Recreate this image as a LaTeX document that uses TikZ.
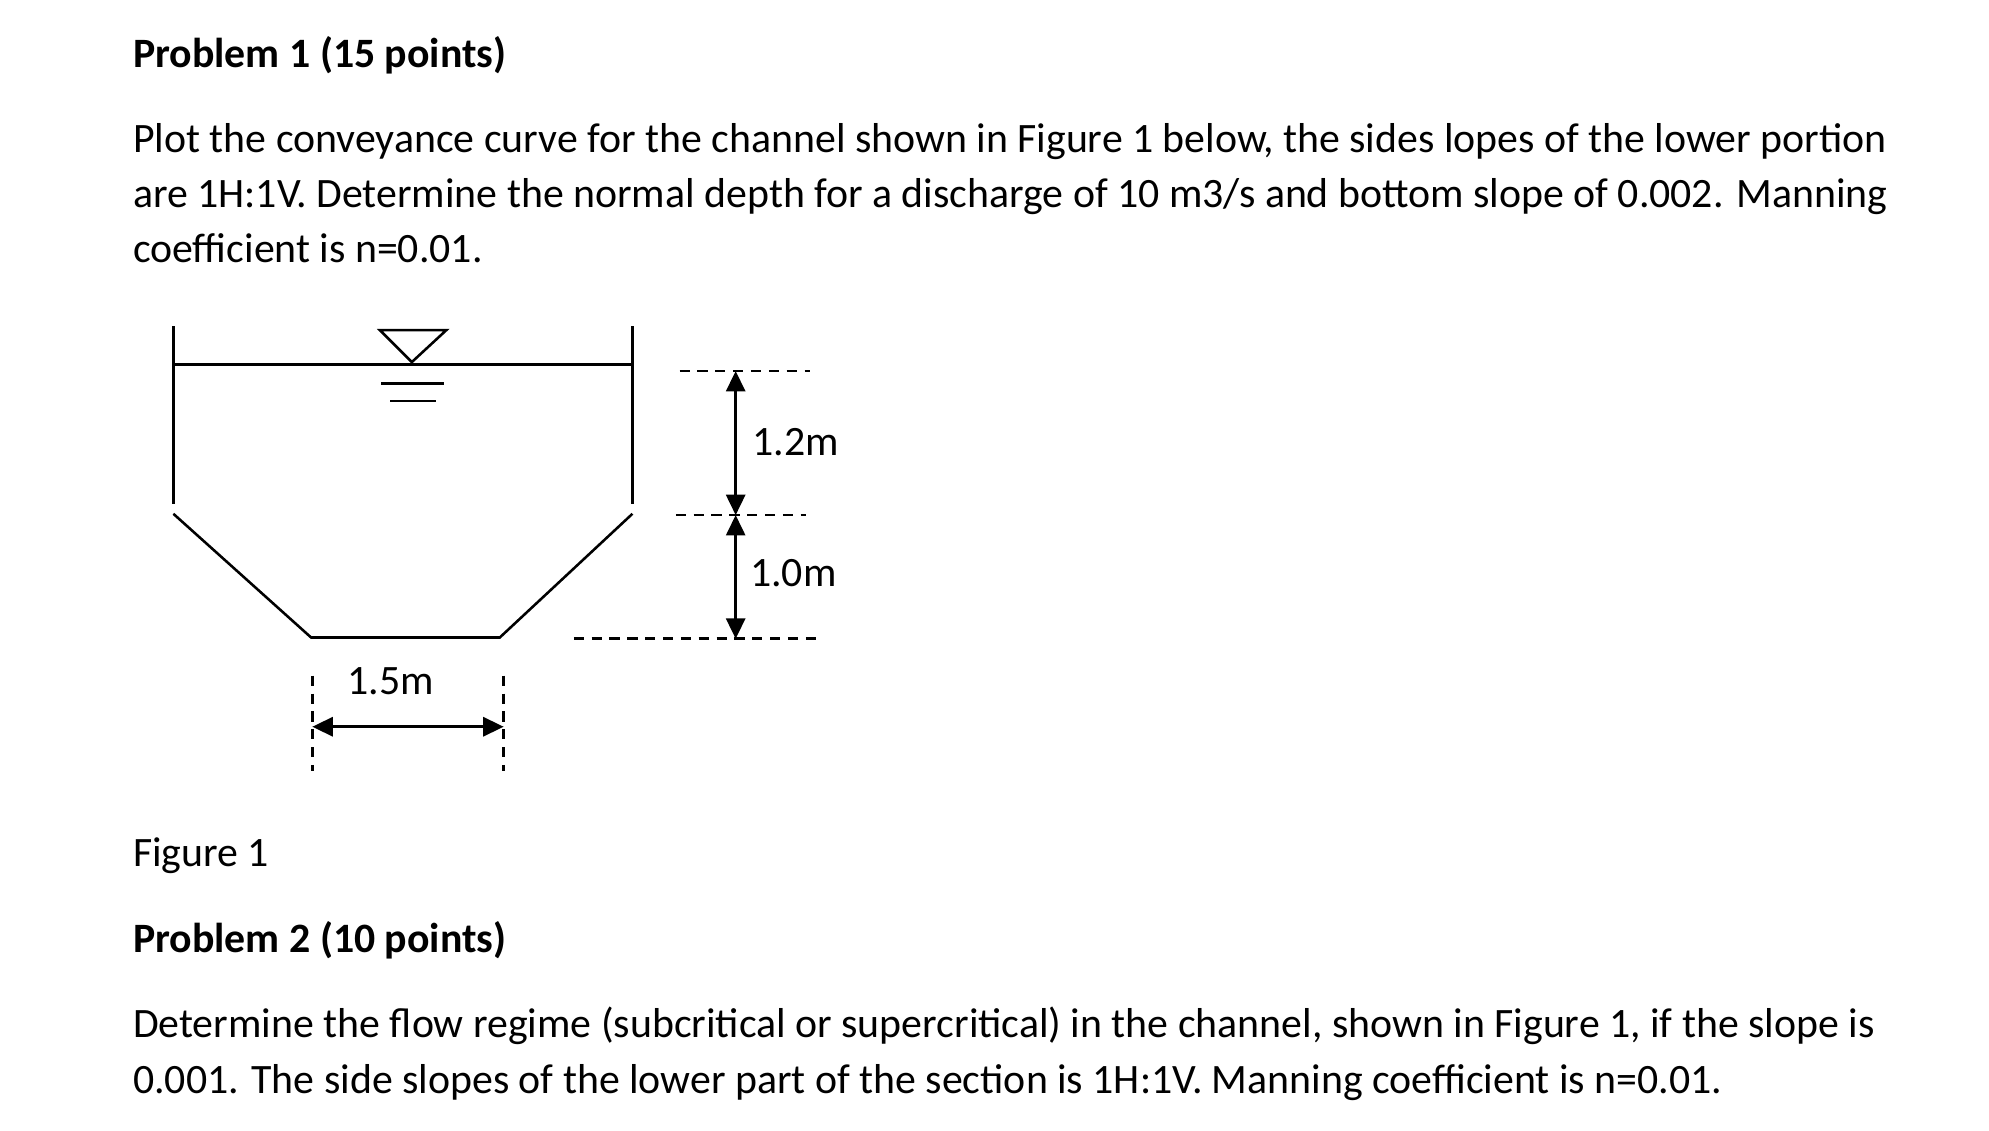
\documentclass[tikz,border=0pt]{standalone}
\usepackage{fontspec}
\setmainfont{Carlito}
\usetikzlibrary{arrows.meta}
\begin{document}
\begin{tikzpicture}[x=0.5pt,y=-0.5pt,
  txt/.style={anchor=base west,inner sep=0pt,font=\fontsize{16.4}{18}\selectfont},
  ln/.style={line width=1pt},
  dsh/.style={line width=1pt,dash pattern=on 4pt off 3pt},
  dim/.style={line width=1pt,{Triangle[length=8pt,width=7.5pt]}-{Triangle[length=8pt,width=7.5pt]}}]
\useasboundingbox (0,0) rectangle (1560,887);
\node[txt,font=\fontsize{16.4}{18}\selectfont\bfseries] (t1) at (104,53) {Problem 1 (15 points)};
\node[txt] (l1) at (104,120) {Plot the conveyance curve for the channel shown in Figure 1 below, the sides lopes of the lower portion};
\node[txt] (l2) at (104,163) {are 1H:1V. Determine the normal depth for a discharge of 10 m3/s and bottom slope of 0.002. Manning};
\node[txt] (l3) at (104,206) {coefficient is n=0.01.};
% channel
\draw[ln] (136,256) -- (136,395);
\draw[ln] (496,256) -- (496,395);
\draw[ln] (136,286) -- (496,286);
\draw[ln] (136,403) -- (244,500) -- (392,500) -- (496,403);
% water symbol
\draw[ln] (298,259) -- (350,259) -- (323,284) -- cycle;
\draw[ln] (299,301) -- (348,301);
\draw[ln] (306,314.5) -- (342,314.5);
% vertical dims
\draw[dsh] (533,291) -- (635,291);
\draw[dsh] (530,404) -- (632,404);
\draw[dsh] (450,501) -- (642,501);
\coordinate (a) at (577,291); \coordinate (b) at (577,404); \coordinate (c) at (577,501);
\draw[dim] (a) -- (b);
\draw[dim] (b) -- (c);
\node[txt] (d1) at (590,357) {1.2m};
\node[txt] (d2) at (588,460) {1.0m};
% horizontal dim
\draw[dsh] (245,530) -- (245,605);
\draw[dsh] (395,530) -- (395,605);
\coordinate (h1) at (245,570); \coordinate (h2) at (395,570);
\draw[dim] (h1) -- (h2);
\node[txt] (d3) at (272,545) {1.5m};
\node[txt] (f1) at (104,680) {Figure 1};
\node[txt,font=\fontsize{16.4}{18}\selectfont\bfseries] (t2) at (104,747) {Problem 2 (10 points)};
\node[txt] (m1) at (104,814) {Determine the flow regime (subcritical or supercritical) in the channel, shown in Figure 1, if the slope is};
\node[txt] (m2) at (104,858) {0.001. The side slopes of the lower part of the section is 1H:1V. Manning coefficient is n=0.01.};
\end{tikzpicture}
\end{document}
